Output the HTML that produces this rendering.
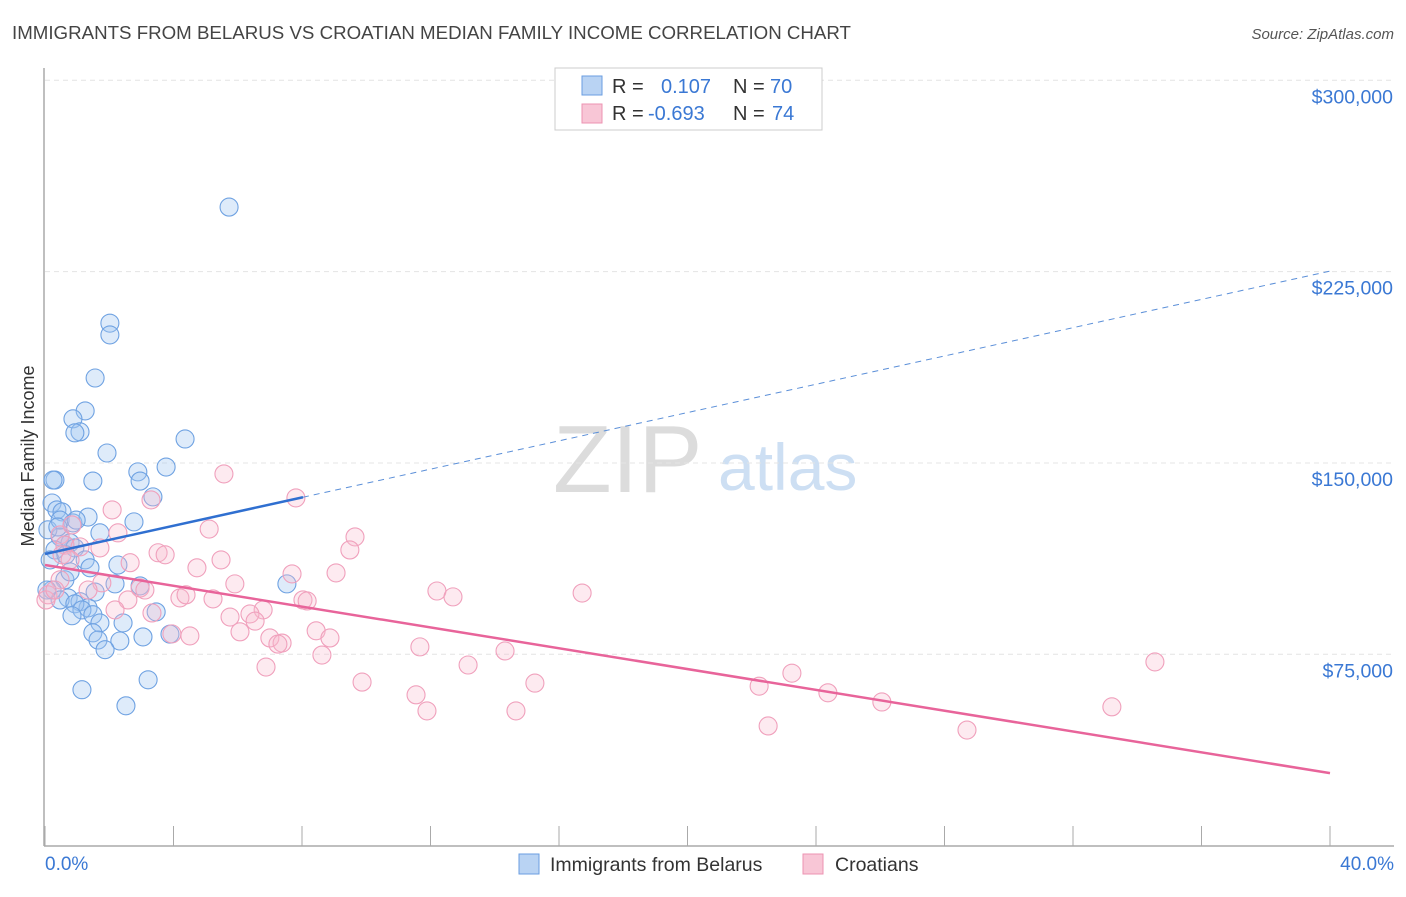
<!DOCTYPE html>
<html><head><meta charset="utf-8"><style>
body{margin:0;background:#fff;font-family:"Liberation Sans",sans-serif;}
svg text{font-family:"Liberation Sans",sans-serif;}
</style></head><body>
<svg id="c" width="1406" height="892" xmlns="http://www.w3.org/2000/svg">
<text x="12" y="39" font-size="18" fill="#444" textLength="839" lengthAdjust="spacingAndGlyphs">IMMIGRANTS FROM BELARUS VS CROATIAN MEDIAN FAMILY INCOME CORRELATION CHART</text>
<text x="1394" y="39" font-size="15" fill="#555" font-style="italic" text-anchor="end">Source: ZipAtlas.com</text>
<g>
<text x="553" y="492" font-size="96" fill="#dcdcdc" font-family="Liberation Serif,serif">ZIP</text>
<text x="718" y="490" font-size="66" fill="#cddff3">atlas</text>
</g>
<g id="grid"></g>
<g id="axes"></g>
<g id="pts"></g>
<g id="trend"></g>
<g>
<rect x="555" y="68" width="267" height="62" fill="#fff" stroke="#ccc"/>
<rect x="582" y="76" width="20" height="19" fill="#b9d3f3" stroke="#6a9ee0"/>
<rect x="582" y="104" width="20" height="19" fill="#f8c6d6" stroke="#ec93b2"/>
<text y="93" font-size="20" fill="#333"><tspan x="612">R =</tspan><tspan x="661" fill="#3a78d4">0.107</tspan><tspan x="733">N =</tspan><tspan x="770" fill="#3a78d4">70</tspan></text>
<text y="120" font-size="20" fill="#333"><tspan x="612">R =</tspan><tspan x="648" fill="#3a78d4">-0.693</tspan><tspan x="733">N =</tspan><tspan x="772" fill="#3a78d4">74</tspan></text>
</g>
<g>
<rect x="519" y="854" width="20" height="20" fill="#b9d3f3" stroke="#6a9ee0"/>
<text x="550" y="871" font-size="19.5" fill="#333">Immigrants from Belarus</text>
<rect x="803" y="854" width="20" height="20" fill="#f8c6d6" stroke="#ec93b2"/>
<text x="835" y="871" font-size="19.5" fill="#333">Croatians</text>
</g>
<text transform="translate(34,456) rotate(-90)" font-size="18" fill="#333" text-anchor="middle">Median Family Income</text>
<text x="45" y="870" font-size="19" fill="#3a78d4">0.0%</text>
<text x="1394" y="870" font-size="19" fill="#3a78d4" text-anchor="end">40.0%</text>
</svg>
<script>
const yTicks=[75,150,225,300];
const yTickLabels=["$75,000","$150,000","$225,000","$300,000"];
const xTicks=[0,4,8,12,16,20,24,28,32,36,40];
const belarusX=[5.73,2.02,2.02,1.56,1.25,0.87,1.09,0.93,4.36,1.93,3.77,2.89,0.31,0.25,2.96,1.49,3.36,0.22,0.37,0.53,0.87,1.34,2.77,1.71,0.47,0.78,0.62,0.31,0.93,2.27,1.25,7.53,0.62,2.96,2.18,0.22,0.72,1.56,1.09,0.47,1.34,0.93,1.15,1.49,0.84,1.71,2.43,1.49,1.65,2.33,1.87,3.05,3.89,3.46,1.15,3.21,2.52,0.09,0.16,0.47,0.06,0.65,0.97,0.40,0.78,1.40];
const belarusY=[250.3,204.8,200.2,183.3,170.4,167.3,162.2,161.8,159.4,153.9,148.4,146.5,143.3,143.3,142.9,142.9,136.7,134.3,131.6,130.8,126.5,128.8,126.9,122.6,121.0,118.7,117.8,115.9,116.7,110.0,112.0,102.6,104.2,101.8,102.6,100.2,97.1,99.4,95.6,96.3,93.2,94.8,92.4,90.5,90.1,87.3,87.3,83.4,80.6,80.2,76.8,81.8,82.9,91.6,61.1,65.0,54.8,123.8,112.0,127.6,100.2,114.0,127.6,124.9,107.3,108.9];
const croatX=[5.57,7.81,3.30,2.09,5.11,9.65,2.27,9.49,0.47,0.84,0.62,1.09,3.52,3.74,5.48,1.71,4.73,7.69,9.06,1.77,5.91,12.20,12.70,16.72,2.96,3.11,4.20,4.39,5.23,2.58,8.03,8.16,6.79,3.33,5.76,6.38,6.54,6.07,7.00,7.38,8.44,8.87,4.51,3.95,8.62,11.67,14.32,13.17,9.87,15.25,22.23,23.25,24.37,26.05,34.55,33.21,11.55,11.89,14.66,22.51,28.70,6.88,7.25,0.09,0.03,0.47,1.34,2.18,0.53,0.78,2.65,0.31];
const croatY=[145.7,136.3,135.5,131.6,124.1,121.0,122.6,115.9,121.8,125.7,117.8,117.1,114.8,114.0,112.0,116.7,108.9,106.5,106.9,103.0,102.6,99.8,97.5,99.0,101.0,100.2,97.1,98.3,96.7,96.3,96.3,95.9,92.4,91.2,89.6,90.8,88.0,83.8,81.4,79.4,84.2,81.4,82.2,83.0,74.7,77.9,76.3,70.8,64.1,63.7,62.5,67.6,59.9,56.3,72.0,54.4,59.1,52.8,52.8,46.9,45.3,70.0,79.0,98.3,96.3,104.2,100.2,92.4,114.0,112.0,110.9,100.2];
const belarusTrend=[114.3,225.2];
const croatTrend=[110.0,28.4];
const belarusSolidEnd=8.03;

const NS="http://www.w3.org/2000/svg";
const X=v=>45+v*32.125;
const Y=v=>845.6-v*2.551;
function mk(tag,attrs,parent){const e=document.createElementNS(NS,tag);for(const k in attrs)e.setAttribute(k,attrs[k]);parent.appendChild(e);return e;}
const grid=document.getElementById('grid'),axes=document.getElementById('axes'),pts=document.getElementById('pts'),trend=document.getElementById('trend');
yTicks.forEach((t,i)=>{
 const l=mk('line',{x1:45,x2:1394,y1:Y(t),y2:Y(t),stroke:'#e4e4e4','stroke-dasharray':'5,4'},grid);
 
 
 const tx=mk('text',{x:1393,y:Y(t)+23,'font-size':19.5,fill:'#3a78d4','text-anchor':'end'},grid);
 tx.textContent=yTickLabels[i];
 
 
});
const ya=mk('line',{x1:44,x2:44,y1:68,y2:846,stroke:'#aaa','stroke-width':1.5},axes);


const xa=mk('line',{x1:44,x2:1394,y1:846,y2:846,stroke:'#aaa','stroke-width':1.5},axes);


xTicks.forEach(t=>{
 const l=mk('line',{x1:X(t),x2:X(t),y1:826,y2:846,stroke:'#aaa'},axes);
 
 
});
belarusX.forEach((x,i)=>{
 const c=mk('circle',{cx:X(x),cy:Y(belarusY[i]),r:9,fill:'rgba(160,198,240,0.35)',stroke:'#6fa2e2','stroke-width':1.1},pts);
 
 
});
croatX.forEach((x,i)=>{
 const c=mk('circle',{cx:X(x),cy:Y(croatY[i]),r:9,fill:'rgba(248,185,206,0.3)',stroke:'#f0a0bc','stroke-width':1.1},pts);
 
 
});
const bt=v=>belarusTrend[0]+(belarusTrend[1]-belarusTrend[0])*v/40;
const l1=mk('line',{x1:X(0),y1:Y(bt(0)),x2:X(belarusSolidEnd),y2:Y(bt(belarusSolidEnd)),stroke:'#2f6fd0','stroke-width':2.5},trend);


const l2=mk('line',{x1:X(belarusSolidEnd),y1:Y(bt(belarusSolidEnd)),x2:X(40),y2:Y(bt(40)),stroke:'#5b8fd8','stroke-width':1,'stroke-dasharray':'6,5'},trend);


const l3=mk('line',{x1:X(0),y1:Y(croatTrend[0]),x2:X(40),y2:Y(croatTrend[1]),stroke:'#e8649a','stroke-width':2.5},trend);


</script>
</body></html>
